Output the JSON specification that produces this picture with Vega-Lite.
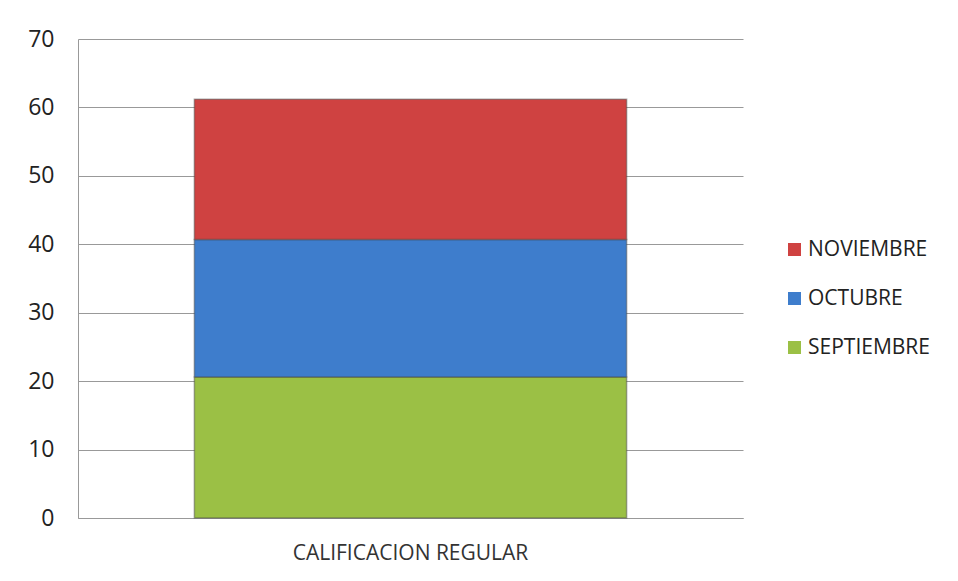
{
  "$schema": "https://vega.github.io/schema/vega-lite/v6.json",
  "width": 665,
  "height": 479,
  "autosize": "none",
  "padding": {"left": 78, "top": 39, "right": 215, "bottom": 63},
  "background": "white",
  "data": {"values": [
    {"categoria": "CALIFICACION REGULAR", "mes": "SEPTIEMBRE", "valor": 20.6, "orden": 1},
    {"categoria": "CALIFICACION REGULAR", "mes": "OCTUBRE", "valor": 20.1, "orden": 2},
    {"categoria": "CALIFICACION REGULAR", "mes": "NOVIEMBRE", "valor": 20.5, "orden": 3}
  ]},
  "mark": {"type": "bar", "stroke": "#444444", "strokeOpacity": 0.45, "strokeWidth": 1.5},
  "encoding": {
    "x": {
      "field": "categoria", "type": "nominal",
      "scale": {"paddingInner": 0.35, "paddingOuter": 0.175},
      "axis": {"title": null, "labelAngle": 0, "ticks": false, "labelPadding": 24, "labelLimit": 0, "labelFontSize": 21, "labelFont": "Open Sans", "labelColor": "#333333", "domainColor": "#999999"}
    },
    "y": {
      "field": "valor", "type": "quantitative", "stack": "zero",
      "scale": {"domain": [0, 70]},
      "axis": {"title": null, "values": [0, 10, 20, 30, 40, 50, 60, 70], "ticks": false, "labelPadding": 24, "labelFontSize": 23, "labelFont": "Open Sans", "labelColor": "#222222", "gridColor": "#999999", "domainColor": "#999999"}
    },
    "color": {
      "field": "mes", "type": "nominal",
      "scale": {"domain": ["NOVIEMBRE", "OCTUBRE", "SEPTIEMBRE"], "range": ["#cf4241", "#3e7dcc", "#9bc045"]},
      "legend": {
        "title": null, "orient": "none", "legendX": 706, "legendY": 200,
        "symbolType": "square", "symbolSize": 170, "symbolStrokeWidth": 0,
        "labelFontSize": 21, "labelFont": "Open Sans", "labelColor": "#222222",
        "rowPadding": 27, "labelOffset": 3
      }
    },
    "order": {"field": "orden", "type": "quantitative"}
  },
  "config": {"view": {"stroke": null}}
}
